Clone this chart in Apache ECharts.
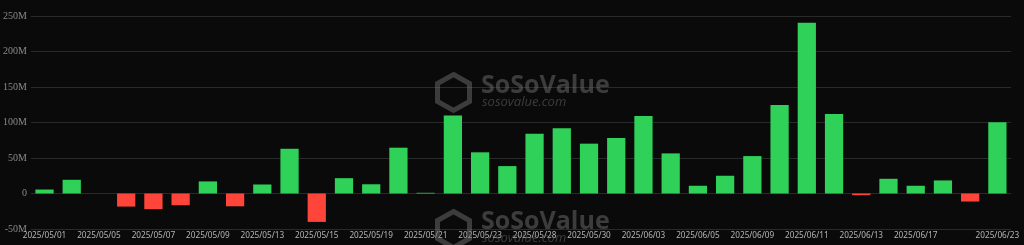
<!DOCTYPE html>
<html>
<head>
<meta charset="utf-8">
<script src="https://cdn.jsdelivr.net/npm/echarts@6/dist/echarts.min.js"></script>
<style>
  html, body { margin: 0; padding: 0; background: #0a0a0a; }
  #main { width: 1024px; height: 245px; }
</style>
</head>
<body>
<div id="main"></div>
<script>
// daily net flow, in millions
var dates = [
    '2025/05/01', '2025/05/02', '2025/05/05', '2025/05/06', '2025/05/07', '2025/05/08',
    '2025/05/09', '2025/05/12', '2025/05/13', '2025/05/14', '2025/05/15', '2025/05/16',
    '2025/05/19', '2025/05/20', '2025/05/21', '2025/05/22', '2025/05/23', '2025/05/27',
    '2025/05/28', '2025/05/29', '2025/05/30', '2025/06/02', '2025/06/03', '2025/06/04',
    '2025/06/05', '2025/06/06', '2025/06/09', '2025/06/10', '2025/06/11', '2025/06/12',
    '2025/06/13', '2025/06/16', '2025/06/17', '2025/06/18', '2025/06/20', '2025/06/23'
];
var flows = [
    5.6, 19.3, 0, -18.4, -22, -16.5,
    17, -18, 12.7, 63, -40, 21.6,
    13, 64.5, 1, 110, 58, 38.6,
    84.3, 91.8, 70.2, 78, 109, 56.5,
    10.9, 25, 52.7, 124.7, 240.5, 112,
    -2.4, 20.7, 10.9, 18.4, -11.3, 100.3
];

var seriesData = [];
for (var i = 0; i < flows.length; i++) {
    seriesData.push({
        value: flows[i],
        itemStyle: { color: flows[i] >= 0 ? '#30d158' : '#ff453a' }
    });
}

var wmColor = 'rgba(110,110,110,0.5)';
function logo(x, y) {
    return {
        type: 'polygon',
        left: x, top: y,
        z: 10,
        shape: { points: [[17, 0], [33, 9], [33, 27], [17, 36], [1, 27], [1, 9]] },
        style: { fill: 'none', stroke: wmColor, lineWidth: 5 }
    };
}

var myChart = echarts.init(document.getElementById('main'));
var option = {
    backgroundColor: '#0a0a0a',
    animation: false,
    grid: { left: 30, right: 13, top: 16, bottom: 16 },
    xAxis: {
        type: 'category',
        data: dates,
        axisLine: { show: false },
        axisTick: { show: false },
        axisLabel: {
            color: '#b5b5b5',
            fontSize: 8.2,
            fontFamily: 'Noto Sans',
            margin: 3,
            interval: function(idx) {
                return (idx % 2 === 0 && idx !== 34) || idx === dates.length - 1;
            }
        }
    },
    yAxis: {
        type: 'value',
        min: -50,
        max: 250,
        interval: 50,
        axisLine: { show: false },
        axisTick: { show: false },
        splitLine: { lineStyle: { color: '#2a2a2a', width: 1 } },
        axisLabel: {
            color: '#8a8a8a',
            fontSize: 10,
            fontFamily: 'Liberation Serif',
            margin: 4,
            formatter: function(v) { return v === 0 ? '0' : v + 'M'; }
        }
    },
    graphic: [
        logo(435, 72),
        { type: 'text', left: 481, top: 73, z: 10,
          style: { text: 'SoSoValue', fill: wmColor, font: 'bold 25px "Open Sans"' } },
        { type: 'text', left: 482, top: 96, z: 10,
          style: { text: 'sosovalue.com', fill: wmColor, font: 'italic 13px "Open Sans"' } },
        logo(435, 209),
        { type: 'text', left: 481, top: 209, z: 10,
          style: { text: 'SoSoValue', fill: wmColor, font: 'bold 25px "Open Sans"' } },
        { type: 'text', left: 482, top: 232, z: 10,
          style: { text: 'sosovalue.com', fill: wmColor, font: 'italic 13px "Open Sans"' } }
    ],
    series: [{
        type: 'bar',
        barWidth: '67%',
        data: seriesData
    }]
};
myChart.setOption(option);
</script>
</body>
</html>
